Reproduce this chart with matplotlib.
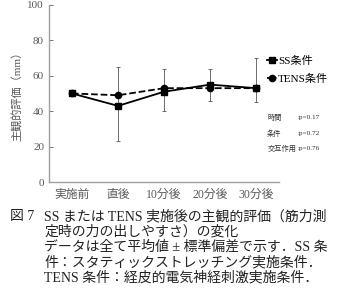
import matplotlib
matplotlib.use('Agg')
import matplotlib.pyplot as plt
import numpy as np

plt.rcParams['font.family'] = ['Liberation Serif', 'Noto Sans CJK JP', 'DejaVu Sans']

categories = ['実施前', '直後', '10分後', '20分後', '30分後']
ss_mean   = [50, 43, 51, 55, 53]
tens_mean = [50, 49, 53, 53, 53]
ss_err_lo = [0, 20, 11, 9, 8]
ss_err_hi = [0, 22, 13, 9, 17]
stat_names = ['時間', '条件', '交互作用']
stat_vals  = [':p=0.17', ':p=0.72', ':p=0.76']
caption = [
    ('図 7', 'SS または TENS 実施後の主観的評価（筋力測'),
    ('', '定時の力の出しやすさ）の変化'),
    ('', 'データは全て平均値 ± 標準偏差で示す．SS 条'),
    ('', '件：スタティックストレッチング実施条件．'),
    ('', 'TENS 条件：経皮的電気神経刺激実施条件．'),
]

gray = '#595959'
fig = plt.figure(figsize=(3.4, 3.08), dpi=100)
ax = fig.add_axes([0.144, 0.409, 0.677, 0.575])

x = np.arange(len(categories))
ax.errorbar(x, ss_mean, yerr=[ss_err_lo, ss_err_hi], fmt='none',
            ecolor='#555555', elinewidth=0.6, capsize=1.5, capthick=0.6)
ax.plot(x, ss_mean, color='black', lw=1.3, marker='s', ms=4.5, label='SS条件')
ax.plot(x, tens_mean, color='black', lw=1.3, ls='--', marker='o', ms=4.5,
        label='TENS条件')

ax.set_xlim(-0.5, len(categories) - 0.5)
ax.set_ylim(0, 100)
ax.set_yticks([0, 20, 40, 60, 80, 100])
ax.set_xticks(x)
ax.set_xticklabels(categories)
ax.tick_params(axis='x', length=0, labelsize=8.5, colors=gray, pad=5)
ax.tick_params(axis='y', length=3, width=0.6, labelsize=8, colors=gray,
               direction='in')
for s in ['top', 'right']:
    ax.spines[s].set_visible(False)
for s in ['left', 'bottom']:
    ax.spines[s].set_color('#a0a0a0')
    ax.spines[s].set_linewidth(1.0)
ax.set_ylabel('主観的評価（mm）', fontsize=8, color=gray, labelpad=4)

fig.legend(loc='upper left', bbox_to_anchor=(0.785, 0.82), frameon=False,
           fontsize=8, handlelength=0.9, handletextpad=0.1,
           labelspacing=0.75, borderaxespad=0, borderpad=0)

for i, (n, v) in enumerate(zip(stat_names, stat_vals)):
    yy = 0.618 - i * 0.05
    fig.text(0.786, yy, n, fontsize=5.2, color='#333333', va='center')
    fig.text(0.874, yy, v, fontsize=5.2, color='#333333', va='center')

for i, (head, body) in enumerate(caption):
    y = 0.298 - i * 0.05
    if head:
        fig.text(0.03, y, head, fontsize=10, va='center', color='#222222')
    fig.text(0.13, y, body, fontsize=10, va='center', color='#222222')

fig.savefig('out.png', dpi=100)
